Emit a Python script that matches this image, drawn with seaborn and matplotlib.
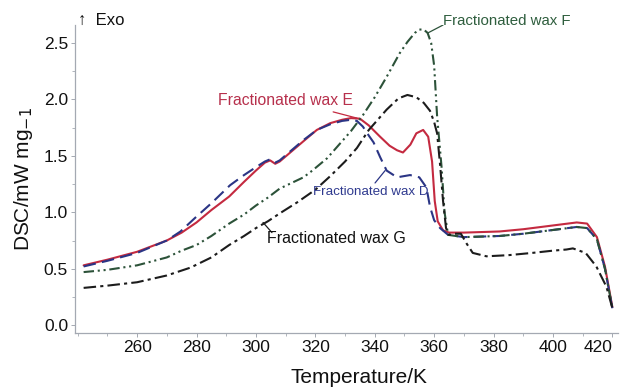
import matplotlib
matplotlib.use("Agg")
import matplotlib.pyplot as plt
import matplotlib.ticker as mticker
import seaborn as sns
import pandas as pd

# --- data (T in K, DSC in mW/mg) ---
t_e = [242, 250, 260, 270, 275, 280, 285, 291, 296, 300, 303, 304.8, 306.5, 308, 312, 316,
       320.5, 325, 329, 332, 335, 338, 341.8, 345, 347.5, 349.5, 352, 354, 356.3, 358,
       359.3, 360.2, 361.2, 363, 365, 370, 382, 390, 399, 405, 408, 411.5, 414.8, 417.5, 420]
y_e = [0.53, 0.58, 0.65, 0.75, 0.82, 0.91, 1.02, 1.14, 1.27, 1.37, 1.44, 1.46, 1.43, 1.45,
       1.54, 1.63, 1.73, 1.79, 1.82, 1.835, 1.83, 1.77, 1.67, 1.59, 1.55, 1.53, 1.60, 1.70,
       1.73, 1.67, 1.45, 1.10, 0.92, 0.84, 0.82, 0.82, 0.83, 0.85, 0.88, 0.90, 0.91, 0.90,
       0.78, 0.52, 0.16]

t_d = [242, 250, 260, 270, 274.6, 279.5, 285, 291.3, 296, 300, 303, 304.8, 306.5, 308, 312,
       316, 320.5, 325, 329, 332, 334, 336, 338, 339.6, 341.8, 344, 347.5, 351.9, 355, 357.4,
       358.6, 360, 362, 364.7, 370, 382, 390, 399, 405, 408, 411.5, 414.8, 417.5, 420]
y_d = [0.52, 0.57, 0.64, 0.75, 0.83, 0.95, 1.08, 1.24, 1.33, 1.40, 1.45, 1.47, 1.44, 1.46,
       1.55, 1.64, 1.73, 1.78, 1.81, 1.82, 1.81, 1.76, 1.68, 1.62, 1.49, 1.37, 1.31, 1.33,
       1.31, 1.22, 1.05, 0.93, 0.86, 0.80, 0.78, 0.79, 0.81, 0.84, 0.86, 0.87, 0.86, 0.76,
       0.50, 0.15]

t_f = [242, 250, 260, 270, 275, 280, 285, 291, 296, 300, 304, 308, 312, 316, 319, 324, 328,
       332, 336, 340, 344, 348.4, 351, 353.5, 355, 356.5, 357.8, 359, 360, 361, 362.5, 363.5,
       364.7, 370, 382, 390, 399, 405, 408, 411.5, 414.8, 417.5, 420]
y_f = [0.47, 0.49, 0.53, 0.60, 0.66, 0.71, 0.79, 0.90, 0.98, 1.06, 1.13, 1.21, 1.26, 1.31,
       1.37, 1.48, 1.60, 1.72, 1.86, 2.02, 2.20, 2.41, 2.51, 2.59, 2.62, 2.62, 2.59, 2.50,
       2.30, 1.85, 1.40, 1.00, 0.80, 0.78, 0.79, 0.81, 0.84, 0.86, 0.87, 0.86, 0.76, 0.50,
       0.15]

t_g = [242, 250, 260, 270, 278, 285, 291, 296, 300, 304, 308, 314, 320, 325, 330, 334, 338,
       341, 344, 348, 351, 354, 356.5, 358.6, 360, 361, 362, 363, 364, 365, 367, 369, 371,
       373, 377.6, 385, 393, 400, 404.5, 406.7, 411, 414.6, 418, 420]
y_g = [0.33, 0.35, 0.38, 0.44, 0.51, 0.60, 0.71, 0.79, 0.86, 0.92, 0.99, 1.09, 1.20, 1.32,
       1.45, 1.57, 1.73, 1.82, 1.91, 2.01, 2.04, 2.02, 1.97, 1.90, 1.80, 1.70, 1.42, 1.10,
       0.86, 0.80, 0.81, 0.81, 0.72, 0.64, 0.61, 0.62, 0.64, 0.66, 0.67, 0.68, 0.64, 0.52,
       0.34, 0.15]

x_ticks = [260, 280, 300, 320, 340, 360, 380, 400, 420]
y_ticks = [0.0, 0.5, 1.0, 1.5, 2.0, 2.5]

RED, NAVY, GREEN, BLACK = "#c42a40", "#2b3585", "#2c5239", "#1c1c1c"
AXC = "#a4a9b2"

sns.set_theme(style="white")
plt.rcParams["font.family"] = ["Liberation Sans", "DejaVu Sans"]

fig = plt.figure(figsize=(6.21, 3.91), dpi=100)
ax = fig.add_axes([0.1208, 0.1483, 0.8744, 0.7877])

curves = [
    (t_e, y_e, RED, "-"),
    (t_d, y_d, NAVY, (0, (6, 3))),
    (t_f, y_f, GREEN, (0, (5, 1.8, 1, 1.8, 1, 1.8))),
    (t_g, y_g, BLACK, (0, (6, 2, 1.5, 2))),
]
for tt, yy, col, ls in curves:
    d = pd.DataFrame({"T": tt, "DSC": yy})
    sns.lineplot(data=d, x="T", y="DSC", ax=ax, color=col, linestyle=ls,
                 linewidth=1.5, sort=False, estimator=None)

ax.set_xlim(239.1, 421.9)
ax.set_ylim(-0.07, 2.66)
ax.set_xticks(x_ticks)
ax.set_yticks(y_ticks)
ax.set_yticklabels([f"{v:.1f}" for v in y_ticks])
ax.xaxis.set_minor_locator(mticker.MultipleLocator(10))
ax.yaxis.set_minor_locator(mticker.MultipleLocator(0.25))
ax.tick_params(axis="both", which="major", labelsize=12.5, length=3, width=0.7,
               color=AXC, pad=2, labelcolor="#111111", direction="out", bottom=True, left=True)
ax.tick_params(axis="both", which="minor", length=2, width=0.6, color=AXC,
               bottom=True, left=True)
ax.get_xticklabels()[-1].set_horizontalalignment("right")

for side in ["top", "right"]:
    ax.spines[side].set_visible(False)
for side in ["left", "bottom"]:
    ax.spines[side].set_color(AXC)
    ax.spines[side].set_linewidth(0.9)

ax.set_xlabel("Temperature/K", fontsize=15, labelpad=4, color="#111111")
ax.xaxis.set_label_coords(0.523, -0.115)
ax.set_ylabel("DSC/mW mg$_{-1}$", fontsize=15, labelpad=6, color="#111111")

ax.text(240.2, 2.70, "\u2191  Exo", fontsize=12, va="center", ha="left", color="#111111")

ax.text(363.0, 2.695, "Fractionated wax F", fontsize=10.8, color="#2f5e3e", va="center")
ax.plot([357.9, 363.0], [2.59, 2.66], color=GREEN, lw=0.9)

ax.text(287.3, 1.995, "Fractionated wax E", fontsize=11.3, color="#b7304c", va="center")
ax.plot([326.0, 334.0], [1.89, 1.835], color=RED, lw=0.9)

ax.text(319.2, 1.18, "Fractionated wax D", fontsize=9.6, color="#2f3a8f", va="center")
ax.plot([340.1, 343.5], [1.26, 1.37], color=NAVY, lw=0.9)

ax.text(303.8, 0.77, "Fractionated wax G", fontsize=11.5, color="#111111", va="center")
ax.plot([302.4, 305.4], [0.91, 0.82], color=BLACK, lw=0.9)

fig.savefig("out.png", dpi=100)
